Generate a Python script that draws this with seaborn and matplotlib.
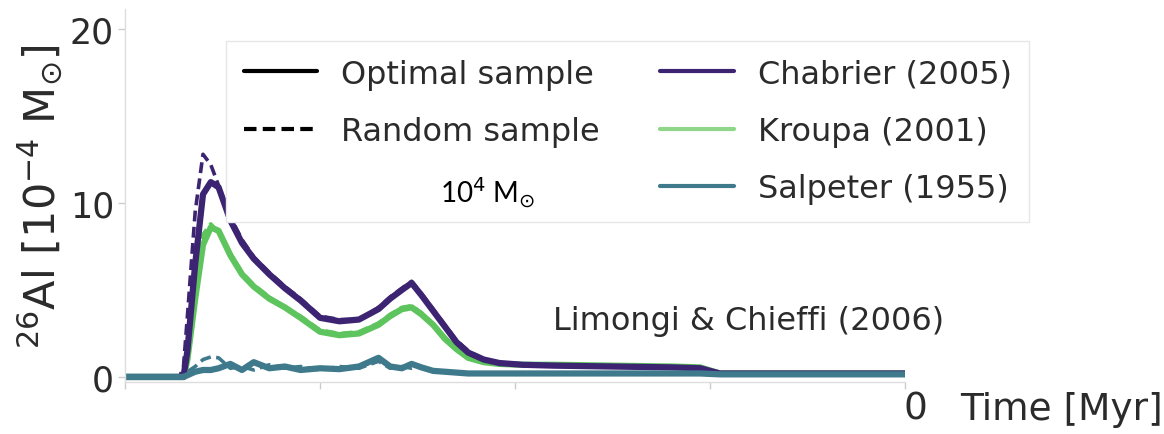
import numpy as np
import pandas as pd
import matplotlib
matplotlib.use("Agg")
import matplotlib.pyplot as plt
from matplotlib.lines import Line2D
import seaborn as sns

# ---------------- data ----------------
time_myr = [0, 2.8, 3.0, 3.2, 3.6, 4.0, 4.4, 4.8, 5.4, 6.0, 6.6, 7.4, 8.2, 9.0,
            10.0, 11.0, 12.0, 13.0, 13.6, 14.2, 14.7, 15.2, 15.8, 16.4, 17.0,
            17.6, 18.4, 19.2, 20.4, 22.0, 25.0, 28.0, 29.5, 30.5, 35.0, 40.0]

chabrier_opt = [0, 0, 0, 1.5, 6.5, 10.5, 11.2, 10.9, 9.0, 7.7, 6.8, 5.9, 5.1, 4.4,
                3.4, 3.2, 3.3, 3.9, 4.5, 5.0, 5.4, 4.7, 3.8, 2.9, 2.0,
                1.4, 1.0, 0.8, 0.7, 0.65, 0.6, 0.55, 0.5, 0.2, 0.2, 0.2]
chabrier_rnd = [0, 0, 0.6, 3.5, 9.5, 12.8, 12.2, 11.0, 9.2, 7.9, 6.9, 6.0, 5.2, 4.5,
                3.5, 3.3, 3.3, 4.0, 4.6, 5.1, 5.5, 4.8, 3.9, 3.0, 2.1,
                1.5, 1.0, 0.8, 0.7, 0.65, 0.6, 0.55, 0.5, 0.2, 0.2, 0.2]
kroupa_opt = [0, 0, 0, 1.0, 4.5, 7.6, 8.6, 8.4, 7.0, 5.9, 5.2, 4.5, 4.0, 3.4,
              2.6, 2.4, 2.5, 3.0, 3.5, 3.9, 4.0, 3.6, 3.0, 2.2, 1.6,
              1.1, 0.85, 0.75, 0.7, 0.7, 0.65, 0.6, 0.55, 0.2, 0.2, 0.2]
kroupa_rnd = [0, 0, 0.5, 2.5, 6.5, 8.2, 8.8, 8.3, 7.1, 6.0, 5.3, 4.6, 4.0, 3.5,
              2.7, 2.5, 2.6, 3.1, 3.6, 4.0, 4.1, 3.7, 3.0, 2.3, 1.6,
              1.1, 0.9, 0.75, 0.7, 0.7, 0.65, 0.6, 0.55, 0.2, 0.2, 0.2]
salpeter_opt = [0, 0, 0, 0.1, 0.3, 0.4, 0.4, 0.5, 0.75, 0.4, 0.85, 0.5, 0.6, 0.4,
                0.5, 0.45, 0.6, 1.1, 0.6, 0.5, 0.75, 0.55, 0.35, 0.3, 0.25,
                0.2, 0.2, 0.2, 0.2, 0.2, 0.2, 0.2, 0.2, 0.15, 0.15, 0.15]
salpeter_rnd = [0, 0, 0.1, 0.3, 0.6, 1.0, 1.15, 1.1, 0.5, 0.6, 0.4, 0.7, 0.5, 0.6,
                0.4, 0.6, 0.5, 0.9, 0.5, 0.6, 0.5, 0.6, 0.3, 0.3, 0.25,
                0.2, 0.2, 0.2, 0.2, 0.2, 0.2, 0.2, 0.2, 0.15, 0.15, 0.15]

imf_labels = ["Chabrier (2005)", "Kroupa (2001)", "Salpeter (1955)"]
sample_labels = ["Optimal sample", "Random sample"]
y_ticks = [0, 10, 20]
x_ticks = [0, 10, 20, 30, 40]
ylabel = r"$^{26}$Al [10$^{-4}$ M$_{\odot}$]"
xlabel = "Time [Myr]"
annotation = "Limongi & Chieffi (2006)"
mass_text = r"10$^4$ M$_{\odot}$"

# ---------------- style ----------------
sns.set_theme(style="white")
plt.rcParams["font.family"] = ["DejaVu Sans"]
colors = {"Chabrier (2005)": "#3d2472", "Kroupa (2001)": "#5ec45d",
          "Salpeter (1955)": "#3f7a8c"}
text_col = "#2b2b2b"

series = {
    ("Kroupa (2001)", "Optimal sample"): kroupa_opt,
    ("Kroupa (2001)", "Random sample"): kroupa_rnd,
    ("Chabrier (2005)", "Optimal sample"): chabrier_opt,
    ("Chabrier (2005)", "Random sample"): chabrier_rnd,
    ("Salpeter (1955)", "Optimal sample"): salpeter_opt,
    ("Salpeter (1955)", "Random sample"): salpeter_rnd,
}

fig = plt.figure(figsize=(11.64, 4.35), dpi=100)
W, H = 1164, 435
ax = fig.add_axes([125 / W, 1 - 383 / H, (905 - 125) / W, (383 - 10) / H])

for (imf, samp), vals in series.items():
    df = pd.DataFrame({"t": time_myr, "v": vals})
    dashed = samp == "Random sample"
    sns.lineplot(data=df, x="t", y="v", ax=ax, color=colors[imf],
                 lw=2.6 if dashed else 4.5,
                 linestyle=(0, (3, 1.5)) if dashed else "-",
                 estimator=None, sort=False, legend=False)

ax.set_xlim(0, 40)
ax.set_ylim(-0.29, 21.15)
ax.set_xticks(x_ticks)
ax.set_xticklabels([])
ax.set_yticks(y_ticks)
ax.set_yticklabels([str(v) for v in y_ticks], fontsize=25, color=text_col)
ax.tick_params(axis="both", which="both", length=5, width=1, color="#cccccc",
               left=True, bottom=True, pad=3)
ax.set_xlabel("")
ax.set_ylabel(ylabel, fontsize=31, color=text_col, labelpad=3)
for s in ["top", "right"]:
    ax.spines[s].set_visible(False)
for s in ["left", "bottom"]:
    ax.spines[s].set_color("#dddddd")
    ax.spines[s].set_linewidth(1)

# legend
handles = [
    Line2D([], [], color="black", lw=3, ls="-"),
    Line2D([], [], color="black", lw=3, ls=(0, (3, 1.5))),
    Line2D([], [], color="none", lw=0),
    Line2D([], [], color=colors["Chabrier (2005)"], lw=3),
    Line2D([], [], color="#8fd68a", lw=3),
    Line2D([], [], color=colors["Salpeter (1955)"], lw=3),
]
labels = sample_labels + [" "] + imf_labels
leg = fig.legend(handles, labels, ncol=2, loc="upper left",
                 bbox_to_anchor=(226 / W, 1 - 42 / H), bbox_transform=fig.transFigure,
                 fontsize=23, frameon=True, framealpha=1.0, fancybox=False,
                 edgecolor="#e6e6e6", handlelength=2.3, handletextpad=0.75,
                 columnspacing=1.9, labelspacing=0.82, borderpad=0.55,
                 borderaxespad=0)
leg.set_zorder(6)
for t in leg.get_texts():
    t.set_color(text_col)

fig.text(440 / W, 1 - 193 / H, mass_text, fontsize=20, color="black",
         family=["Lato", "DejaVu Sans"], ha="left", va="center", zorder=10)
fig.text(553 / W, 1 - 322 / H, annotation, fontsize=23, color=text_col,
         ha="left", va="center")
fig.text(915 / W, 1 - 410 / H, "0", fontsize=27, color=text_col,
         ha="center", va="center")
fig.text(960 / W, 1 - 410 / H, xlabel, fontsize=27, color=text_col,
         ha="left", va="center")

fig.savefig("out.png", dpi=100, facecolor="white")
